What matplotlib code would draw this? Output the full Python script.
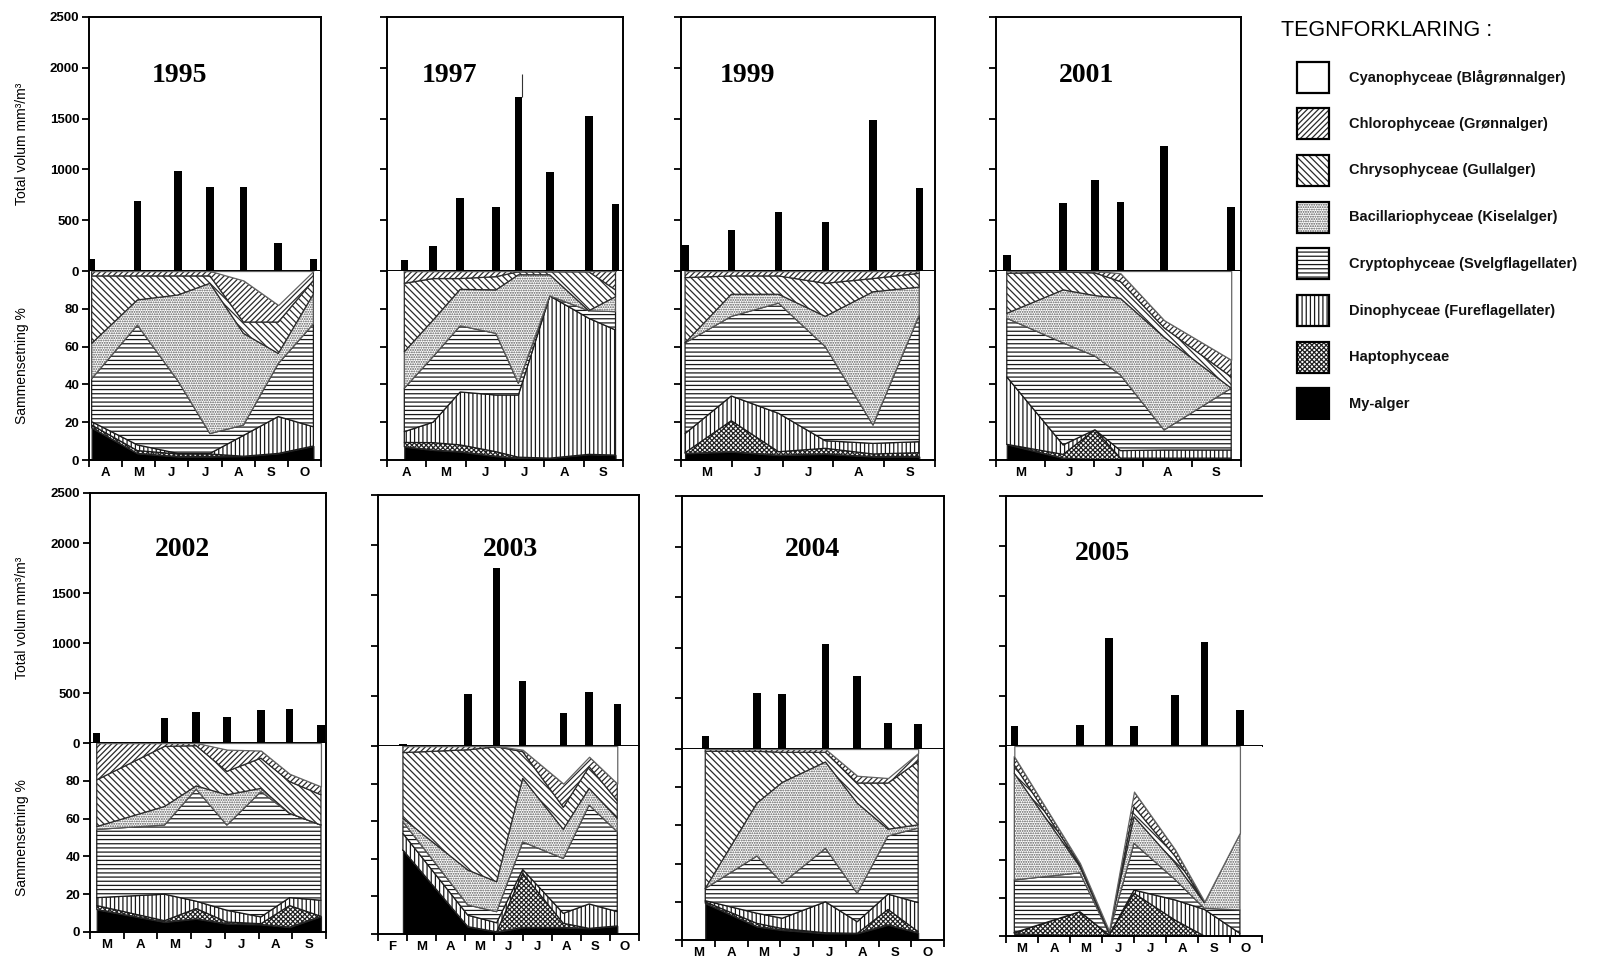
import numpy as np
import matplotlib
matplotlib.use('Agg')
import matplotlib.pyplot as plt
from matplotlib.patches import Rectangle

plt.rcParams['font.family'] = ['Liberation Sans', 'DejaVu Sans']
plt.rcParams['hatch.linewidth'] = 0.9

W, H = 1598, 960

# Phytoplankton groups, listed from the bottom of the stack upwards.
# Cyanophyceae is whatever is left up to 100 %.
groups = ['My-alger', 'Haptophyceae', 'Dinophyceae (Fureflagellater)',
          'Cryptophyceae (Svelgflagellater)', 'Bacillariophyceae (Kiselalger)',
          'Chrysophyceae (Gullalger)', 'Chlorophyceae (Grønnalger)',
          'Cyanophyceae (Blågrønnalger)']

# ---- 1995 ----
months_1995 = ['A', 'M', 'J', 'J', 'A', 'S', 'O']
x_1995 = [0.08, 1.46, 2.68, 3.65, 4.66, 5.71, 6.77]
vol_1995 = [115, 688, 983, 829, 829, 272, 121]
pct_1995 = [[17, 3.5, 1.8, 1.8, 2, 3.5, 7.4],
             [1.5, 1.5, 1.4, 1.4, 0, 0, 0],
             [1.8, 3, 0.3, 0.3, 11, 19.5, 10.2],
             [22.7, 63.4, 38.5, 10.5, 5.5, 28, 54.4],
             [18.7, 13.3, 45.3, 79.5, 48.5, 5.4, 15.8],
             [35.7, 12.7, 10.1, 3.9, 6, 16.6, 7.2],
             [2.6, 2.6, 2.6, 2.6, 22, 9, 5]]

# ---- 1997 ----
months_1997 = ['A', 'M', 'J', 'J', 'A', 'S']
x_1997 = [0.44, 1.17, 1.86, 2.77, 3.34, 4.14, 5.13, 5.81]
vol_1997 = [110, 250, 717, 627, 1710, 970, 1523, 657]
pct_1997 = [[7, 5.3, 4.4, 2, 1, 1, 3, 2.6],
             [2.3, 3.9, 3.6, 2.4, 0.5, 0, 0, 0],
             [5.7, 10.8, 28, 30, 32.9, 85.8, 72, 66.2],
             [23, 34.7, 35, 32.6, 6.2, 0, 4, 9.7],
             [19.3, 19.3, 19.3, 23, 57.4, 11.2, 0, 7.9],
             [36.2, 22, 5.7, 7, 1.6, 1.6, 20.6, 3.6],
             [6.5, 4, 4, 3, 0.4, 0.4, 0.4, 10]]
spike_1997 = 1940

# ---- 1999 ----
months_1999 = ['M', 'J', 'J', 'A', 'S']
x_1999 = [0.08, 0.99, 1.92, 2.84, 3.78, 4.69]
vol_1999 = [256, 399, 578, 482, 1485, 814]
pct_1999 = [[3.5, 4.4, 2.6, 3.2, 1.8, 1.8],
             [0.4, 16.4, 1.8, 3, 1.4, 2.1],
             [10.1, 13.1, 20.3, 4, 5.6, 5.8],
             [48, 42.1, 58.3, 49.8, 9.7, 67],
             [0, 11.7, 4.7, 16, 70.5, 14.8],
             [34.5, 9.7, 9.7, 17.5, 7, 7.3],
             [3.5, 2.6, 2.6, 6.5, 4, 1.2]]

# ---- 2001 ----
months_2001 = ['M', 'J', 'J', 'A', 'S']
x_2001 = [0.22, 1.37, 2.02, 2.54, 3.43, 4.8]
vol_2001 = [160, 671, 894, 681, 1226, 631]
pct_2001 = [[8.3, 1, 0.3, 0.3, 0.3, 0.3],
             [0, 2, 15.7, 0.7, 0.7, 0.7],
             [35.7, 5, 0, 4, 4.3, 4.3],
             [31, 54, 39, 40, 10.6, 32.7],
             [2.6, 28, 32, 40.5, 49.1, 0],
             [21.2, 9.5, 12, 8.9, 5, 6],
             [1.2, 0.5, 1, 4.4, 4, 9]]

# ---- 2002 ----
months_2002 = ['M', 'A', 'M', 'J', 'J', 'A', 'S']
x_2002 = [0.2, 2.21, 3.15, 4.06, 5.07, 5.92, 6.85]
vol_2002 = [100, 249, 306, 259, 332, 342, 183]
pct_2002 = [[11.9, 5.3, 7, 4.4, 4, 2.6, 8.3],
             [2.1, 0.7, 5.4, 0.9, 0.4, 11.4, 0],
             [4.2, 14, 3.9, 6.2, 3.6, 4.2, 8.5],
             [36.1, 36.6, 59.3, 45.1, 66.3, 44.6, 39.8],
             [1.5, 9.8, 1.7, 16, 1.7, 0, 0],
             [24.7, 31.8, 21.3, 12.4, 16, 16.8, 16],
             [19.5, 1.8, 1.4, 11.5, 4, 4.1, 4.4]]

# ---- 2003 ----
months_2003 = ['F', 'M', 'A', 'M', 'J', 'J', 'A', 'S', 'O']
x_2003 = [0.86, 3.1, 4.09, 4.99, 6.39, 7.28, 8.25]
vol_2003 = [20, 520, 1770, 643, 327, 533, 417]
pct_2003 = [[44.7, 3.9, 1.2, 3.5, 3.5, 3, 4.3],
             [0, 0, 0, 28.8, 2.2, 0, 0],
             [8.8, 6.1, 4.8, 2, 5.3, 13, 7.6],
             [6.3, 5.4, 5.9, 14.7, 29.2, 52.6, 42.5],
             [1.7, 18.6, 15.9, 33.8, 15.5, 8.9, 7.1],
             [35, 64, 71.8, 14.2, 11.7, 11.5, 9.5],
             [3.5, 2, 0.4, 1, 12.6, 5.3, 9]]

# ---- 2004 ----
months_2004 = ['M', 'A', 'M', 'J', 'J', 'A', 'S', 'O']
x_2004 = [0.71, 2.29, 3.06, 4.38, 5.35, 6.29, 7.21]
vol_2004 = [125, 549, 539, 1039, 717, 257, 247]
pct_2004 = [[19.2, 7, 5.2, 3.5, 3.5, 7.9, 3.8],
             [0.8, 1.7, 0.8, 0.3, 0, 8.1, 0.6],
             [0.6, 5.3, 5.4, 16.2, 6.1, 8, 15.2],
             [6.4, 30, 18.3, 28, 14.9, 30.5, 39],
             [0, 27.7, 52.8, 45.2, 47.2, 3.5, 1.7],
             [71.8, 27.1, 15.8, 5.1, 10.5, 24.2, 33.2],
             [1.2, 1.2, 1.7, 1.7, 3.8, 2.6, 4.4]]

# ---- 2005 ----
months_2005 = ['M', 'A', 'M', 'J', 'J', 'A', 'S', 'O']
x_2005 = [0.26, 2.31, 3.22, 4.0, 5.28, 6.2, 7.31]
vol_2005 = [200, 210, 1083, 200, 510, 1043, 360]
pct_2005 = [[1.2, 0, 0, 0, 0, 0, 0],
             [0.6, 12.8, 0.5, 22.5, 8.4, 0, 0],
             [0, 0, 0, 1.7, 10.6, 14, 1.4],
             [27.7, 20.5, 0.9, 24.6, 10.8, 0.6, 12.3],
             [56.1, 3.2, 0.4, 14, 8.8, 2.9, 40.3],
             [4.4, 0.9, 0.5, 5.2, 3.5, 0.4, 0],
             [4.4, 1, 0.5, 8, 3.5, 0.3, 0.4]]

panels = [
    ('1995', months_1995, x_1995, vol_1995, pct_1995),
    ('1997', months_1997, x_1997, vol_1997, pct_1997),
    ('1999', months_1999, x_1999, vol_1999, pct_1999),
    ('2001', months_2001, x_2001, vol_2001, pct_2001),
    ('2002', months_2002, x_2002, vol_2002, pct_2002),
    ('2003', months_2003, x_2003, vol_2003, pct_2003),
    ('2004', months_2004, x_2004, vol_2004, pct_2004),
    ('2005', months_2005, x_2005, vol_2005, pct_2005),
]

# panel frames in pixels: left, right, top, zero line, bottom, year label x, y
frames = {
    '1995': (89, 321, 17, 271, 460, 180, 76),
    '1997': (387, 623, 17, 271, 460, 450, 76),
    '1999': (681, 935, 17, 271, 460, 748, 76),
    '2001': (996, 1241, 17, 271, 460, 1086, 76),
    '2002': (90, 326, 493, 743, 932, 182, 549),
    '2003': (378, 639, 495, 746, 934, 510, 549),
    '2004': (682, 944, 496, 749, 940, 813, 549),
    '2005': (1006, 1262, 496, 746, 936, 1102, 553),
}

# fill / hatch per group (same order as groups)
styles = [
    dict(facecolor='black', hatch=None, edgecolor='#222222'),
    dict(facecolor='white', hatch='xxxxxxx', edgecolor='#222222'),
    dict(facecolor='white', hatch='||||', edgecolor='#1a1a1a'),
    dict(facecolor='white', hatch='----', edgecolor='#1a1a1a'),
    dict(facecolor='white', hatch='.......', edgecolor='#555555'),
    dict(facecolor='white', hatch='\\\\\\\\\\', edgecolor='#2a2a2a'),
    dict(facecolor='white', hatch='//////', edgecolor='#2a2a2a'),
    dict(facecolor='white', hatch=None, edgecolor='#666666'),
]

tick_font = dict(fontsize=9.5, fontweight='bold')
spine_lw = 1.4

fig = plt.figure(figsize=(W / 100, H / 100), dpi=100)


def px_axes(l, r, t, b):
    return fig.add_axes([l / W, 1 - b / H, (r - l) / W, (b - t) / H])


for year, months, xs, vols, pct in panels:
    l, r, t, z, b, tx, ty = frames[year]
    n = len(months)
    left_col = year in ('1995', '2002')
    open_right = year == '2005'

    # --- total volume bars ---
    ax1 = px_axes(l, r, t, z)
    bw = 7.5 * n / (r - l)
    ax1.bar(xs, vols, width=bw, color='black', zorder=3)
    if year == '1997':
        i = int(np.argmax(vols))
        ax1.vlines(xs[i] + bw / 2, vols[i], spike_1997, color='#333333', lw=0.8)
    ax1.set_xlim(0, n)
    ax1.set_ylim(0, 2500)
    ax1.set_xticks([])
    ax1.set_yticks(np.arange(0, 2501, 500))
    ax1.tick_params(axis='y', direction='out', length=5, width=1.3, pad=2)
    if left_col:
        ax1.set_yticklabels([str(v) for v in range(0, 2501, 500)], **tick_font)
    else:
        ax1.set_yticklabels([])
    for s in ax1.spines.values():
        s.set_linewidth(spine_lw)
    if open_right:
        ax1.spines['right'].set_visible(False)

    # --- composition % ---
    ax2 = px_axes(l, r, z, b)
    vals = np.array(pct, dtype=float)
    rest = 100 - vals.sum(axis=0)
    vals = np.vstack([vals, rest])
    cum = np.vstack([np.zeros(len(xs)), np.cumsum(vals, axis=0)])
    for k in range(len(groups)):
        st = styles[k]
        ax2.fill_between(xs, cum[k], cum[k + 1], facecolor=st['facecolor'],
                         hatch=st['hatch'], edgecolor=st['edgecolor'],
                         linewidth=0.9, zorder=2)
    ax2.set_xlim(0, n)
    ax2.set_ylim(0, 100)
    ax2.set_yticks([0, 20, 40, 60, 80])
    ax2.tick_params(axis='y', direction='out', length=5, width=1.3, pad=2)
    if left_col:
        ax2.set_yticklabels(['0', '20', '40', '60', '80'], **tick_font)
    else:
        ax2.set_yticklabels([])
    ax2.set_xticks(np.arange(0, n + 1))
    ax2.set_xticklabels([])
    ax2.set_xticks(np.arange(n) + 0.5, minor=True)
    ax2.set_xticklabels(months, minor=True, **tick_font)
    ax2.tick_params(axis='x', which='major', direction='out', length=5, width=1.3)
    ax2.tick_params(axis='x', which='minor', length=0, pad=5)
    for s in ax2.spines.values():
        s.set_linewidth(spine_lw)
    ax2.spines['top'].set_visible(False)
    if open_right:
        ax2.spines['right'].set_visible(False)

    fig.text(tx / W, 1 - ty / H, year, ha='center', va='center',
             family='Liberation Serif', fontweight='bold', fontsize=20)

    if left_col:
        fig.text(22 / W, 1 - (t + z) / 2 / H, 'Total volum mm³/m³', rotation=90,
                 ha='center', va='center', fontsize=10)
        fig.text(22 / W, 1 - (z + b) / 2 / H, 'Sammensetning %', rotation=90,
                 ha='center', va='center', fontsize=10)

# --- legend ---
lax = fig.add_axes([1250 / W, 1 - 420 / H, 348 / W, 420 / H])
lax.set_xlim(1250, 1598)
lax.set_ylim(420, 0)
lax.axis('off')
lax.text(1281, 30, 'TEGNFORKLARING :', ha='left', va='center', fontsize=15.5)
for j, k in enumerate(range(len(groups) - 1, -1, -1)):
    yc = 77 + j * 46.7
    st = styles[k]
    lax.add_patch(Rectangle((1297, yc - 15.5), 32, 31, facecolor=st['facecolor'],
                            hatch=st['hatch'], edgecolor=st['edgecolor'], linewidth=0))
    lax.add_patch(Rectangle((1297, yc - 15.5), 32, 31, fill=False,
                            edgecolor='black', linewidth=1.6))
    lax.text(1349, yc, groups[k], ha='left', va='center', fontsize=10.5,
             fontweight='bold', color='#111111')

fig.savefig('out.png', dpi=100)
